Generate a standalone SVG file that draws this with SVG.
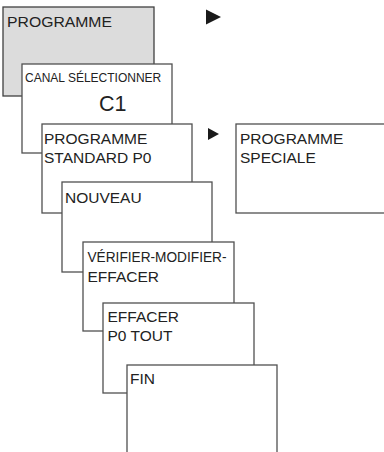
<svg xmlns="http://www.w3.org/2000/svg" width="384" height="452" viewBox="0 0 384 452">
<style>
.box{fill:#fff;stroke:#505050;stroke-width:1.3}
.gray{fill:#dcdcdc;stroke:#404040}
.t{font-family:"Liberation Sans",Arial,sans-serif;fill:#222;font-size:15.5px}
.s{font-size:12px}
.big{font-size:21.5px}
.arr{fill:#1a1a1a}
</style>
<rect width="384" height="452" fill="#fff"/>
<g id="programme">
<rect class="box gray" x="3" y="7" width="151" height="89"/>
<text class="t" x="7" y="27" textLength="105" lengthAdjust="spacingAndGlyphs">PROGRAMME</text>
</g>
<g id="canal">
<rect class="box" x="22" y="64" width="150" height="89"/>
<text class="t s" x="25" y="82">CANAL SÉLECTIONNER</text>
<text class="t big" x="99" y="111">C1</text>
</g>
<g id="standard">
<rect class="box" x="42" y="124" width="150" height="89"/>
<text class="t" x="44" y="143.5">PROGRAMME</text>
<text class="t" x="44" y="162.5">STANDARD P0</text>
</g>
<g id="speciale">
<rect class="box" x="236" y="124" width="160" height="89"/>
<text class="t" x="240" y="143.5">PROGRAMME</text>
<text class="t" x="240" y="162.5">SPECIALE</text>
</g>
<g id="nouveau">
<rect class="box" x="62" y="182" width="150" height="90"/>
<text class="t" x="65" y="202.5">NOUVEAU</text>
</g>
<g id="verifier">
<rect class="box" x="83" y="242" width="151" height="89"/>
<text class="t" x="87.5" y="261.7" textLength="139" lengthAdjust="spacingAndGlyphs">VÉRIFIER-MODIFIER-</text>
<text class="t" x="87.5" y="281.5">EFFACER</text>
</g>
<g id="effacer">
<rect class="box" x="103" y="303" width="151" height="90"/>
<text class="t" x="107.5" y="321.7">EFFACER</text>
<text class="t" x="107.5" y="341">P0 TOUT</text>
</g>
<g id="fin">
<rect class="box" x="127" y="365" width="150" height="100"/>
<text class="t" x="130" y="383.5">FIN</text>
</g>
<g id="connectors">
<polygon class="arr" points="206,9.5 221,17 206,24.5"/>
<polygon class="arr" points="208,128 219,134 208,140"/>
</g>
</svg>
